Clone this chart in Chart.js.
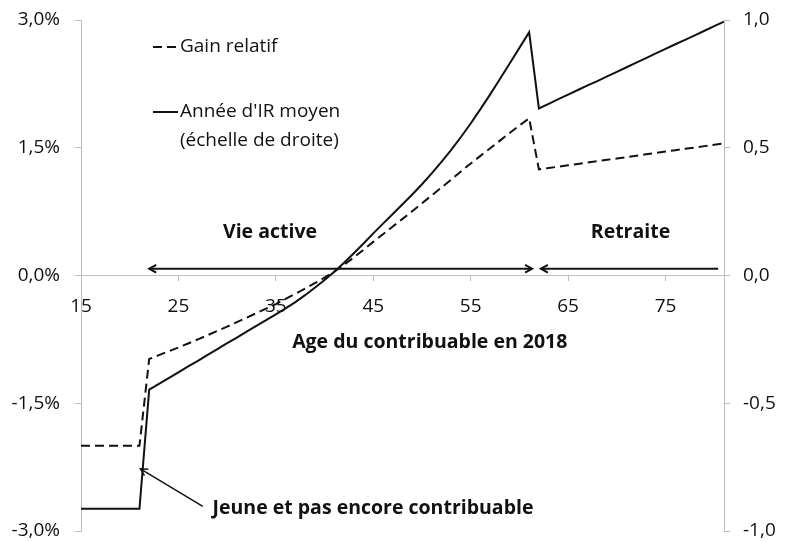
<!DOCTYPE html>
<html>
<head>
<meta charset="utf-8">
<script src="https://cdn.jsdelivr.net/npm/chart.js@4.4.0/dist/chart.umd.min.js"></script>
<style>
  html, body { margin: 0; padding: 0; background: #ffffff; }
  #wrap { width: 785px; height: 542px; }
</style>
</head>
<body>
<div id="wrap"><canvas id="chart" width="785" height="542"></canvas></div>
<script>
// Age du contribuable en 2018
const ages = [
  15, 16, 17, 18, 19, 20, 21, 22, 23, 24, 25, 26, 27, 28, 29, 30, 31, 32, 33, 34,
  35, 36, 37, 38, 39, 40, 41, 42, 43, 44, 45, 46, 47, 48, 49, 50, 51, 52, 53, 54,
  55, 56, 57, 58, 59, 60, 61, 62, 63, 64, 65, 66, 67, 68, 69, 70, 71, 72, 73, 74,
  75, 76, 77, 78, 79, 80, 81
];

// Gain relatif (%), left axis
const gainRelatif = [
  -2.0, -2.0, -2.0, -2.0, -2.0, -2.0, -2.0, -0.98, -0.935, -0.89, -0.845, -0.798, -0.75, -0.70, -0.65, -0.60, -0.548, -0.495, -0.442, -0.389,
  -0.335, -0.275, -0.215, -0.153, -0.09, -0.025, 0.045, 0.125, 0.212, 0.302, 0.395, 0.485, 0.575, 0.665, 0.755, 0.848, 0.94, 1.033, 1.127, 1.222,
  1.316, 1.405, 1.494, 1.584, 1.673, 1.762, 1.845, 1.246, 1.262, 1.278, 1.294, 1.31, 1.326, 1.342, 1.358, 1.374, 1.39, 1.407, 1.423, 1.439,
  1.455, 1.471, 1.487, 1.503, 1.519, 1.535, 1.551
];

// Année d'IR moyen, right axis
const anneeIR = [
  -0.913, -0.913, -0.913, -0.913, -0.913, -0.913, -0.913, -0.447, -0.424, -0.402, -0.379, -0.356, -0.334, -0.311, -0.288, -0.265, -0.243, -0.22, -0.197, -0.175,
  -0.152, -0.129, -0.104, -0.077, -0.048, -0.018, 0.015, 0.05, 0.087, 0.125, 0.165, 0.203, 0.241, 0.279, 0.317, 0.357, 0.4, 0.445, 0.492, 0.542,
  0.595, 0.651, 0.709, 0.769, 0.83, 0.891, 0.952, 0.654, 0.672, 0.69, 0.708, 0.726, 0.744, 0.761, 0.779, 0.797, 0.815, 0.833, 0.851, 0.869,
  0.887, 0.905, 0.922, 0.94, 0.958, 0.976, 0.994
];

const xTicks = [15, 25, 35, 45, 55, 65, 75];
const leftTicks = [-3, -1.5, 0, 1.5, 3];
const rightTicks = [-1, -0.5, 0, 0.5, 1];

// annotations, in data units (age, % on the left axis)
const arrowLevel = 0.08;
const vieActiveSpan = [22.0, 61.3];
const retraiteSpan = [62.2, 80.4];
const jeunePointer = [[27.5, -2.71], [21.1, -2.27]];

const FONT = '"Open Sans", "Noto Sans", sans-serif';
const INK = '#111111';
const AXIS = '#bdbdbd';

const fmt = v => v.toFixed(1).replace('.', ',');

function arrowHead(ctx, fromX, fromY, toX, toY) {
  const ang = Math.atan2(toY - fromY, toX - fromX);
  const len = 8, spread = 0.5;
  ctx.beginPath();
  ctx.moveTo(toX - len * Math.cos(ang - spread), toY - len * Math.sin(ang - spread));
  ctx.lineTo(toX, toY);
  ctx.lineTo(toX - len * Math.cos(ang + spread), toY - len * Math.sin(ang + spread));
  ctx.stroke();
}

// no extra room around the tick labels, the plot area is set by layout.padding
const noPad = s => { s.paddingTop = 0; s.paddingBottom = 0; s.paddingLeft = 0; s.paddingRight = 0; };

const annotations = {
  id: 'annotations',
  beforeDatasetsDraw(chart) {
    const { ctx, scales: { x, yL } } = chart;
    const px = a => x.getPixelForValue(a);
    const py = v => yL.getPixelForValue(v);
    ctx.save();
    ctx.strokeStyle = INK;
    ctx.lineWidth = 2;

    // Vie active : double arrow
    const ay = py(arrowLevel);
    const a1 = px(vieActiveSpan[0]), a2 = px(vieActiveSpan[1]);
    ctx.beginPath(); ctx.moveTo(a1, ay); ctx.lineTo(a2, ay); ctx.stroke();
    arrowHead(ctx, a2, ay, a1, ay);
    arrowHead(ctx, a1, ay, a2, ay);

    // Retraite
    const r1 = px(retraiteSpan[0]), r2 = px(retraiteSpan[1]);
    ctx.beginPath(); ctx.moveTo(r1, ay); ctx.lineTo(r2, ay); ctx.stroke();
    arrowHead(ctx, r2, ay, r1, ay);

    // pointer to the young
    ctx.lineWidth = 1.5;
    const t = jeunePointer[0], h = jeunePointer[1];
    ctx.beginPath(); ctx.moveTo(px(t[0]), py(t[1])); ctx.lineTo(px(h[0]), py(h[1])); ctx.stroke();
    arrowHead(ctx, px(t[0]), py(t[1]), px(h[0]), py(h[1]));

    ctx.fillStyle = INK;
    ctx.font = 'bold 19.5px ' + FONT;
    ctx.textBaseline = 'middle';
    ctx.textAlign = 'center';
    ctx.fillText('Vie active', px(34.4), py(0.5));
    ctx.fillText('Retraite', px(71.4), py(0.5));
    ctx.fillText('Age du contribuable en 2018', px(50.8), py(-0.79));
    ctx.textAlign = 'left';
    ctx.fillText('Jeune et pas encore contribuable', px(28.5), py(-2.74));
    ctx.restore();
  },
  afterDraw(chart) {
    const { ctx, chartArea } = chart;
    const ds = chart.data.datasets;
    const x0 = chartArea.left + 72;
    ctx.save();
    ctx.font = '19px ' + FONT;
    ctx.fillStyle = INK;
    ctx.textBaseline = 'middle';
    ctx.textAlign = 'left';
    ctx.strokeStyle = INK;
    ctx.lineWidth = 2;

    // Gain relatif
    ctx.setLineDash([9, 5]);
    ctx.beginPath(); ctx.moveTo(x0, 47); ctx.lineTo(x0 + 24, 47); ctx.stroke();
    ctx.setLineDash([]);
    ctx.fillText(ds[0].label, x0 + 27, 47);

    // Année d'IR moyen
    ctx.beginPath(); ctx.moveTo(x0, 112); ctx.lineTo(x0 + 25, 112); ctx.stroke();
    ctx.fillText(ds[1].label, x0 + 27, 112);
    ctx.fillText('(échelle de droite)', x0 + 27, 141);
    ctx.restore();
  }
};

const tickFont = { family: FONT, size: 19 };

new Chart(document.getElementById('chart'), {
  type: 'line',
  data: {
    datasets: [
      {
        label: 'Gain relatif',
        data: ages.map((a, i) => ({ x: a, y: gainRelatif[i] })),
        yAxisID: 'yL',
        borderColor: INK,
        borderWidth: 2,
        borderDash: [9, 5],
        pointRadius: 0,
        tension: 0
      },
      {
        label: "Année d'IR moyen",
        data: ages.map((a, i) => ({ x: a, y: anneeIR[i] })),
        yAxisID: 'yR',
        borderColor: INK,
        borderWidth: 2,
        pointRadius: 0,
        tension: 0
      }
    ]
  },
  options: {
    responsive: false,
    animation: false,
    devicePixelRatio: 1,
    layout: { padding: { top: 20, bottom: 11, left: 0, right: 0 } },
    plugins: { legend: { display: false }, tooltip: { enabled: false } },
    scales: {
      x: {
        type: 'linear',
        position: { yL: 0 },
        min: 15,
        max: 81,
        afterBuildTicks: s => { s.ticks = xTicks.map(v => ({ value: v })); },
        afterFit: noPad,
        grid: { drawOnChartArea: false, drawTicks: true, tickLength: 5, color: AXIS },
        border: { color: AXIS, width: 1 },
        ticks: { autoSkip: false, maxRotation: 0, padding: 15, color: INK, font: tickFont }
      },
      yL: {
        type: 'linear',
        position: 'left',
        min: -3,
        max: 3,
        afterBuildTicks: s => { s.ticks = leftTicks.map(v => ({ value: v })); },
        afterFit: s => { noPad(s); s.width = 81; },
        grid: { drawOnChartArea: false, drawTicks: true, tickLength: 6, color: AXIS },
        border: { color: AXIS, width: 1 },
        ticks: { padding: 15, color: INK, font: tickFont, callback: v => fmt(v) + '%' }
      },
      yR: {
        type: 'linear',
        position: 'right',
        min: -1,
        max: 1,
        afterBuildTicks: s => { s.ticks = rightTicks.map(v => ({ value: v })); },
        afterFit: s => { noPad(s); s.width = 61; },
        grid: { drawOnChartArea: false, drawTicks: true, tickLength: 6, color: AXIS },
        border: { color: AXIS, width: 1 },
        ticks: { padding: 13, color: INK, font: tickFont, callback: v => fmt(v) }
      }
    }
  },
  plugins: [annotations]
});
</script>
</body>
</html>
